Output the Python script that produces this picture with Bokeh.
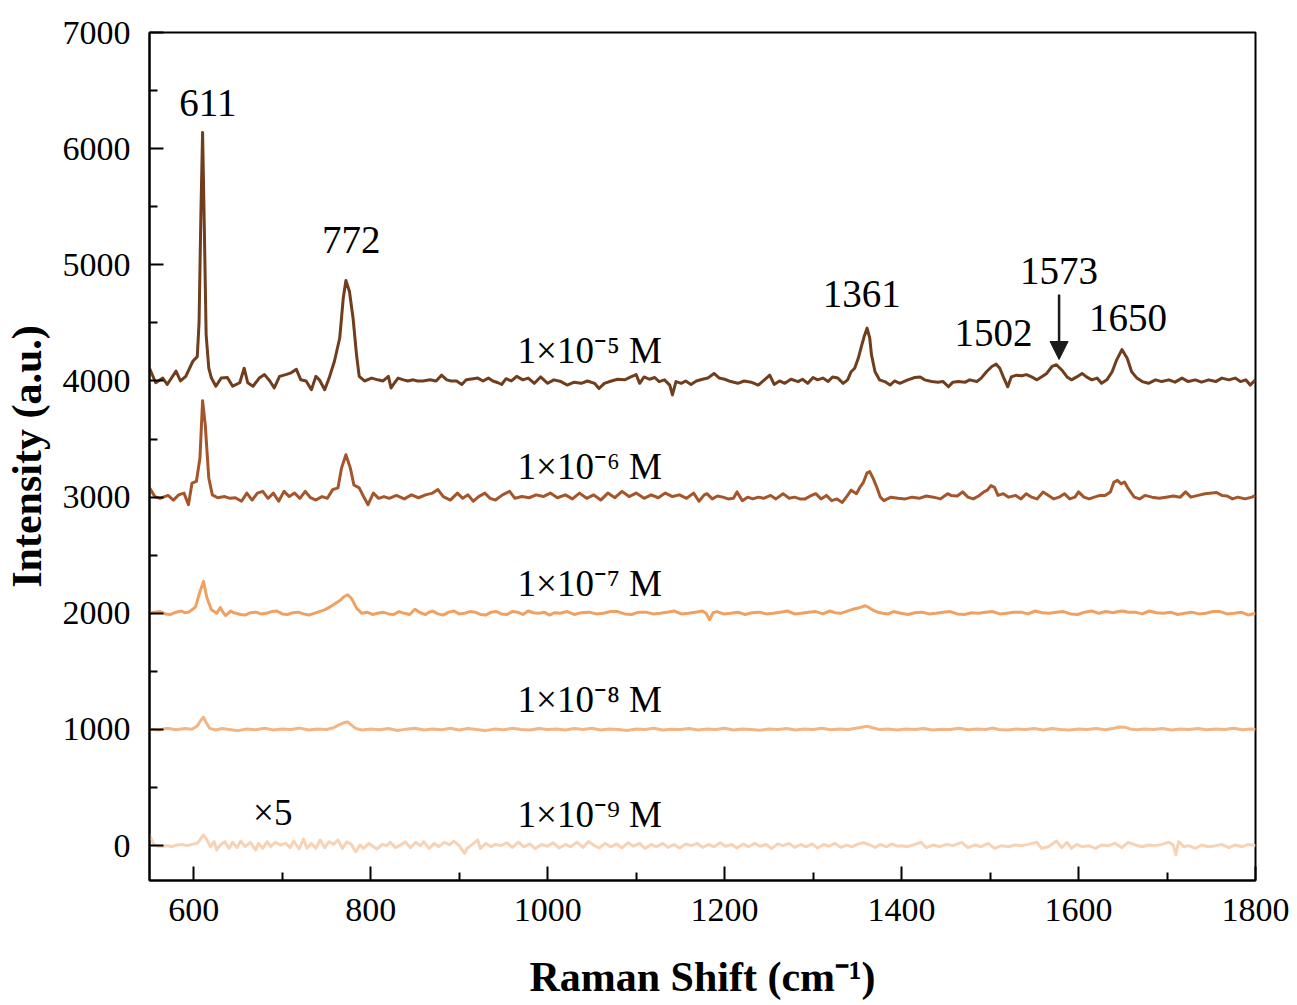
from bokeh.plotting import figure
from bokeh.models import FixedTicker, Range1d, Arrow, NormalHead
from bokeh.core.properties import value
from bokeh.embed import file_html
from bokeh.resources import INLINE

# ---------------- data ----------------
x_1e5 = [550, 557, 565, 570, 580, 585, 591, 599, 604, 606, 608, 610, 612, 614, 617, 620, 625, 631, 638, 644,
         652, 657, 661, 667, 674, 680, 686, 691, 697, 704, 710, 716, 721, 727, 733, 738, 742, 748, 753, 759,
         765, 769, 772, 776, 780, 784, 787, 793, 801, 808, 814, 820, 823, 827, 831, 837, 842, 848, 853, 859,
         867, 874, 880, 886, 891, 897, 903, 908, 916, 921, 927, 933, 938, 944, 948, 953, 959, 965, 972, 978,
         985, 992, 1000, 1007, 1015, 1022, 1030, 1038, 1045, 1053, 1058, 1064, 1072, 1079, 1087, 1094, 1100,
         1104, 1109, 1115, 1121, 1126, 1132, 1138, 1141, 1145, 1151, 1156, 1162, 1168, 1175, 1181, 1188, 1194,
         1200, 1207, 1215, 1222, 1230, 1238, 1245, 1251, 1256, 1262, 1268, 1275, 1283, 1288, 1294, 1300, 1305,
         1311, 1317, 1322, 1328, 1334, 1339, 1343, 1347, 1351, 1354, 1358, 1361, 1364, 1366, 1370, 1375, 1381,
         1387, 1392, 1398, 1407, 1415, 1421, 1426, 1434, 1441, 1447, 1453, 1458, 1464, 1472, 1477, 1485, 1490,
         1496, 1502, 1507, 1511, 1515, 1520, 1524, 1530, 1536, 1541, 1547, 1553, 1558, 1564, 1570, 1575, 1581,
         1587, 1592, 1598, 1604, 1609, 1615, 1621, 1626, 1632, 1638, 1643, 1649, 1655, 1660, 1666, 1672, 1679,
         1687, 1694, 1702, 1709, 1717, 1724, 1732, 1739, 1747, 1755, 1762, 1770, 1777, 1783, 1789, 1794, 1800]
y_1e5 = [4110, 3985, 4025, 3970, 4085, 4000, 4040, 4170, 4210, 4500, 5400, 6140, 5300, 4400, 4110, 4025, 3955, 4025, 4030, 3955,
         3985, 4110, 3985, 3955, 4025, 4055, 4000, 3940, 4040, 4055, 4070, 4100, 4010, 4000, 3925, 4040, 4010, 3925, 4025, 4170,
         4370, 4715, 4865, 4770, 4545, 4225, 4040, 4000, 4025, 4010, 4000, 4040, 3940, 3985, 4025, 4010, 4000, 4010, 4000, 4000,
         4010, 4000, 4050, 4010, 4000, 4000, 3970, 4010, 4020, 4025, 4000, 4025, 4000, 3985, 3970, 4020, 4000, 4040, 4010, 4025,
         3980, 4035, 3980, 4010, 3995, 3965, 3990, 3980, 4000, 3980, 3935, 3980, 4000, 4015, 4010, 4035, 4055,
         3980, 4035, 4015, 4030, 3995, 4010, 3965, 3880, 3995, 3980, 4000, 3970, 4000, 4015, 4025, 4065, 4025,
         4015, 3995, 3980, 4000, 3990, 3965, 4010, 4050, 3970, 4000, 3980, 4015, 3995, 4015, 3980, 4030, 4010,
         4025, 3995, 4035, 4025, 3980, 4010, 4080, 4110, 4195, 4280, 4390, 4455, 4370, 4225, 4080, 4010, 3995,
         3965, 4000, 3980, 4010, 4030, 4035, 4010, 3995, 3990, 3995, 3950, 3990, 3995, 3990, 4010, 3995, 4025,
         4080, 4125, 4145, 4110, 4035, 3950, 4035, 4050, 4045, 4055, 4035, 4010, 4035, 4065, 4125, 4140, 4095,
         4035, 4010, 4035, 4065, 4035, 4010, 4025, 3980, 4010, 4080, 4180, 4270, 4195, 4080, 4025, 3995, 3980,
         4010, 3995, 4010, 3990, 4025, 3995, 4010, 3990, 4010, 3995, 4025, 4010, 4025, 3995, 4010, 3965, 4010]

x_1e6 = [550, 556, 562, 571, 577, 583, 589, 594, 598, 603, 607, 610, 613, 617, 621, 627, 635, 641, 647, 654,
         660, 666, 672, 678, 684, 690, 696, 702, 708, 714, 720, 726, 732, 738, 745, 751, 757, 763, 767, 772,
         777, 781, 787, 793, 797, 803, 809, 815, 821, 829, 838, 846, 854, 862, 870, 876, 882, 890, 898, 904,
         910, 916, 922, 929, 935, 941, 949, 957, 963, 971, 979, 987, 995, 1003, 1011, 1020, 1028, 1036, 1044,
         1052, 1060, 1068, 1076, 1084, 1092, 1100, 1109, 1117, 1125, 1133, 1141, 1149, 1157, 1165, 1171, 1177,
         1180, 1186, 1192, 1198, 1204, 1210, 1214, 1220, 1226, 1232, 1238, 1244, 1252, 1258, 1266, 1273, 1279,
         1285, 1291, 1297, 1303, 1309, 1315, 1321, 1327, 1333, 1339, 1343, 1349, 1353, 1357, 1361, 1364, 1368,
         1372, 1376, 1380, 1388, 1396, 1404, 1412, 1420, 1428, 1436, 1444, 1452, 1456, 1463, 1469, 1475, 1481,
         1487, 1493, 1497, 1501, 1505, 1509, 1515, 1521, 1529, 1535, 1541, 1547, 1553, 1560, 1566, 1572, 1578,
         1584, 1590, 1596, 1600, 1606, 1612, 1618, 1624, 1630, 1636, 1640, 1644, 1648, 1652, 1656, 1663, 1669,
         1675, 1683, 1691, 1699, 1707, 1715, 1721, 1727, 1735, 1743, 1756, 1762, 1768, 1774, 1780, 1788, 1796, 1800]
y_1e6 = [3080, 3005, 2990, 3015, 2975, 3020, 3035, 2935, 3120, 3135, 3335, 3830, 3625, 3165, 3020, 2995, 3005, 2990, 2995, 2965,
         3035, 2975, 3035, 3050, 2990, 3035, 2965, 3050, 3005, 3035, 2990, 3050, 2995, 2975, 3005, 2990, 3065, 3080, 3250, 3365,
         3250, 3105, 3080, 2990, 2935, 3035, 2990, 3005, 2990, 3015, 2985, 3020, 2995, 3020, 3035, 3065, 3005, 2975, 3035, 2990,
         3020, 2965, 3005, 3035, 2990, 2975, 3020, 3050, 2990, 3005, 2995, 3020, 3005, 3035, 2995, 3020, 2985, 3035, 2990,
         3020, 2975, 3035, 2995, 3050, 3005, 3035, 2990, 3020, 2995, 3035, 3005, 3020, 2990, 3035, 2965, 3020,
         3030, 2985, 3010, 3000, 2985, 2990, 3045, 2970, 3000, 2985, 3000, 2990, 3015, 2985, 3030, 2990, 3000,
         2985, 2985, 3010, 3030, 2985, 3015, 2970, 2985, 2955, 3015, 3060, 3030, 3085, 3130, 3210, 3220, 3160,
         3085, 3000, 2970, 3000, 2990, 2985, 3000, 2990, 3010, 3000, 2985, 3030, 3015, 3010, 3045, 3000, 2985,
         3010, 3045, 3060, 3100, 3085, 3015, 3030, 3000, 3015, 2985, 3030, 3000, 2985, 3045, 3015, 2985, 3000,
         3030, 2985, 3000, 3045, 3000, 2985, 3000, 3015, 3015, 3045, 3130, 3145, 3115, 3130, 3075, 3000, 2985,
         3015, 3000, 2990, 3000, 3010, 3000, 3045, 3000, 3015, 3030, 3040, 3015, 3010, 2985, 3000, 2985, 3000, 3015]

# 1e-7 M trace as (Raman shift, intensity) pairs
pts_1e7 = [(550, 2000), (556, 2010), (562, 2015), (568, 1995), (574, 1990), (580, 2010), (586, 2020), (590, 2005),
           (594, 2010), (598, 2030), (602, 2055), (607, 2185), (611, 2275), (615, 2130), (620, 2030), (623, 2015),
           (626, 2000), (630, 2050), (633, 2010), (636, 1980), (642, 2020), (645, 2005), (648, 2000), (653, 1990),
           (658, 1985), (664, 2005), (670, 2010), (676, 1995), (682, 2000), (688, 2015), (694, 2020), (700, 1995),
           (706, 1990), (712, 2005), (718, 2010), (724, 1995), (730, 1985), (736, 2000), (742, 2015), (748, 2030),
           (754, 2055), (760, 2085), (766, 2115), (770, 2145), (774, 2160), (778, 2130), (781, 2090), (784, 2045),
           (790, 2000), (796, 2010), (802, 1990), (808, 2000), (814, 2010), (820, 1995), (826, 1990), (832, 2015),
           (838, 2000), (844, 1990), (850, 2035), (856, 2005), (862, 1990), (866, 2010), (870, 2020), (876, 1995),
           (882, 1985), (888, 2010), (894, 2020), (900, 1995), (906, 2000), (912, 2015), (918, 2010), (924, 1990),
           (930, 1985), (936, 2010), (942, 2015), (948, 1995), (954, 1990), (960, 2015), (966, 2010), (972, 1990),
           (978, 2020), (984, 2005), (990, 2000), (996, 2010), (1002, 1985), (1008, 2005), (1014, 2000), (1022, 2015),
           (1030, 1990), (1038, 2005), (1047, 2010), (1055, 1995), (1063, 2000), (1071, 2015), (1079, 2015),
           (1087, 1995), (1095, 1990), (1103, 2010), (1111, 2010), (1119, 1995), (1127, 2000), (1135, 2010),
           (1143, 2020), (1151, 1995), (1159, 2000), (1167, 2010), (1175, 2020), (1179, 2000), (1183, 1945),
           (1187, 2005), (1191, 2015), (1199, 1995), (1207, 2000), (1215, 2010), (1223, 1990), (1231, 2005),
           (1239, 2010), (1247, 1995), (1255, 2000), (1263, 2010), (1271, 2020), (1279, 1995), (1287, 2000),
           (1295, 2010), (1303, 2015), (1311, 1995), (1319, 2020), (1325, 2005), (1331, 2000), (1337, 2015),
           (1343, 2030), (1347, 2040), (1351, 2045), (1355, 2055), (1359, 2065), (1363, 2050), (1367, 2030),
           (1373, 2010), (1379, 2000), (1385, 1995), (1391, 2015), (1399, 2000), (1407, 1990), (1415, 2005),
           (1423, 2010), (1431, 1995), (1439, 2000), (1447, 2010), (1455, 2015), (1463, 1995), (1471, 1990),
           (1479, 2005), (1487, 2000), (1495, 2010), (1503, 2015), (1511, 1995), (1519, 2000), (1527, 2010),
           (1535, 2010), (1543, 1995), (1551, 2020), (1559, 2005), (1567, 2000), (1575, 2010), (1583, 2015),
           (1591, 1995), (1599, 1990), (1607, 2010), (1615, 2020), (1623, 2000), (1631, 2015), (1639, 2005),
           (1645, 2015), (1650, 2020), (1656, 2010), (1664, 2010), (1672, 1995), (1680, 2020), (1688, 2005),
           (1696, 2000), (1704, 2010), (1712, 1990), (1720, 2000), (1728, 2010), (1736, 1995), (1744, 2000),
           (1752, 2015), (1760, 2015), (1768, 1995), (1776, 2000), (1784, 2010), (1792, 1985), (1800, 2000)]
x_1e7 = [pt[0] for pt in pts_1e7]
y_1e7 = [pt[1] for pt in pts_1e7]

x_1e8 = [550, 560, 570, 580, 590, 598, 604, 608, 611, 614, 618, 625, 632, 640, 650, 660, 670, 680, 690, 700,
         710, 720, 730, 740, 750, 758, 764, 770, 774, 778, 783, 790, 800, 810, 820, 830, 840, 850, 860, 870,
         880, 890, 900, 910, 920, 930, 940, 950, 960, 970, 980, 990, 1000, 1010, 1020, 1030, 1040, 1050, 1060,
         1070, 1080, 1090, 1100, 1110, 1120, 1130, 1140, 1150, 1160, 1170, 1180, 1190, 1200, 1210, 1220, 1230,
         1240, 1250, 1260, 1270, 1280, 1290, 1300, 1310, 1320, 1330, 1340, 1348, 1355, 1361, 1367, 1375, 1385,
         1395, 1405, 1415, 1425, 1435, 1445, 1455, 1465, 1475, 1485, 1495, 1502, 1510, 1520, 1530, 1540, 1550,
         1560, 1570, 1580, 1590, 1600, 1610, 1620, 1630, 1640, 1646, 1652, 1658, 1665, 1675, 1685, 1695, 1705,
         1715, 1725, 1735, 1745, 1755, 1765, 1775, 1785, 1795, 1800]
y_1e8 = [1005, 995, 1010, 998, 1008, 1002, 1030, 1080, 1105, 1060, 1010, 995, 1008, 1000, 990, 1005, 998, 1010, 995, 1005,
         1000, 1012, 995, 1005, 1000, 1015, 1040, 1060, 1065, 1040, 1010, 995, 1005, 998, 1008, 992, 1003, 1010, 996, 1005,
         998, 1010, 995, 1008, 1000, 990, 1005, 998, 1010, 1000, 995, 1008, 1000, 1005, 995, 1008, 1000, 1010, 996,
         1005, 1000, 992, 1005, 1000, 1010, 995, 1003, 1000, 1008, 995, 1005, 1000, 1010, 996, 1005, 1000,
         993, 1005, 1000, 1008, 995, 1005, 1000, 1010, 998, 1005, 1000, 1010, 1020, 1028, 1015, 1000, 1005,
         995, 1005, 1000, 1008, 995, 1003, 1000, 1010, 998, 1005, 1000, 1012, 1000, 995, 1005, 1000, 1008,
         995, 1008, 1000, 995, 1005, 1000, 1008, 998, 1010, 1022, 1020, 1005, 998, 1005, 1000, 1008, 995,
         1005, 1000, 1008, 998, 1005, 1000, 1010, 998, 1005, 1000]

# 1e-9 M trace, shown multiplied by 5
x_1e9 = [550, 555, 562, 570, 575, 581, 587, 592, 598, 604, 607, 611, 615, 619, 623, 626, 630, 635, 640, 644,
         649, 653, 658, 664, 670, 673, 678, 683, 687, 692, 698, 704, 709, 713, 719, 724, 728, 733, 738, 743,
         748, 753, 758, 763, 768, 773, 778, 783, 788, 792, 798, 803, 807, 813, 818, 822, 828, 834, 839, 845,
         851, 856, 860, 866, 872, 877, 883, 889, 894, 900, 906, 909, 915, 921, 924, 930, 936, 941, 947, 954,
         960, 967, 973, 980, 986, 993, 1000, 1006, 1013, 1020, 1026, 1033, 1040, 1046, 1052, 1058, 1065, 1071,
         1078, 1084, 1091, 1097, 1104, 1110, 1117, 1123, 1130, 1136, 1143, 1149, 1156, 1162, 1169, 1175, 1182,
         1188, 1195, 1201, 1208, 1214, 1221, 1227, 1234, 1240, 1247, 1253, 1260, 1266, 1273, 1279, 1286, 1292,
         1299, 1305, 1312, 1318, 1325, 1331, 1338, 1344, 1351, 1357, 1363, 1370, 1376, 1383, 1389, 1395, 1400,
         1407, 1415, 1422, 1428, 1436, 1443, 1451, 1458, 1468, 1475, 1483, 1490, 1498, 1505, 1513, 1521, 1528,
         1536, 1543, 1553, 1558, 1566, 1575, 1581, 1587, 1592, 1598, 1604, 1611, 1619, 1626, 1634, 1641, 1649,
         1656, 1664, 1672, 1679, 1687, 1694, 1702, 1707, 1710, 1713, 1719, 1724, 1732, 1739, 1747, 1755, 1762,
         1770, 1777, 1785, 1792, 1800]
y_1e9 = [92, 6, -9, 0, -9, 6, 11, 0, 11, 20, 49, 92, 49, -9, 34, -37, 6, 34, -23, 29,
         -17, 40, -9, 29, -37, 20, -23, 34, -9, 29, 6, 20, -17, 40, -29, 57, -23, 20, -23, 49,
         -17, 34, 11, 49, -23, 34, 11, -52, 6, -23, 20, -9, -29, 11, 0, 29, -17, 6, 34, -17,
         29, 0, 34, -23, 20, -9, 29, 6, 40, 0, -66, -23, 11, 49, -23, 20, -9, 11, 0, 25,
         -15, 30, -10, 15, -25, 10, -5, 25, -20, 10, -10, 30, -15, 35, 5, -20, 20, -10,
         15, -20, 25, -5, 20, -25, 10, -10, 20, -15, 10, -20, 15, 0, 20, -15, 10,
         -10, 25, -5, 10, -20, 15, -10, 20, -5, 10, -25, 15, 0, 20, -15, 10, -10,
         15, -20, 10, -5, 20, -15, 5, -10, 15, 25, 10, -15, 10, -10, 15, -5, 0,
         -9, 11, 29, -17, 6, -9, 11, 0, 29, -17, 6, -9, 20, -23, 0, -9, 6,
         0, 11, 29, -23, -9, 40, -17, 29, -23, 11, -9, 0, -23, 6, 0, 20, -17,
         29, 6, -9, 6, 0, 11, 29, 6, -80, 34, -9, 0, -23, 6, -9, 0, 11,
         -17, 6, -9, 11, 0]

series_x = [x_1e5, x_1e6, x_1e7, x_1e8, x_1e9]
series_y = [y_1e5, y_1e6, y_1e7, y_1e8, y_1e9]
series_colors = ["#703D1D", "#A5552A", "#F0A161", "#F3B584", "#F8D2B4"]

conc_labels = ["1×10⁻⁵ M", "1×10⁻⁶ M", "1×10⁻⁷ M", "1×10⁻⁸ M", "1×10⁻⁹ M"]
conc_label_x = [966, 966, 966, 966, 966]
conc_label_y = [4260, 3260, 2260, 1260, 265]

peak_labels = ["611", "772", "1361", "1502", "1573", "1650"]
peak_label_x = [616, 778, 1355, 1504, 1578, 1656]
peak_label_y = [6395, 5215, 4750, 4415, 4945, 4540]

scale_label = ["×5"]
scale_label_x = [667]
scale_label_y = [282]

arrow_x = 1578
arrow_y_start = 4745
arrow_y_end = 4185

x_ticks = [600, 800, 1000, 1200, 1400, 1600, 1800]
x_minor = [700, 900, 1100, 1300, 1500, 1700]
y_ticks = [0, 1000, 2000, 3000, 4000, 5000, 6000, 7000]
y_minor = [500, 1500, 2500, 3500, 4500, 5500, 6500]

FONT = "Liberation Serif"

# ---------------- figure ----------------
p = figure(width=1297, height=1005, output_backend="svg", toolbar_location=None,
           x_range=Range1d(550, 1800), y_range=Range1d(-300, 7000),
           min_border_left=149, min_border_right=42, min_border_top=32, min_border_bottom=125,
           background_fill_color="white", border_fill_color="white")

p.xgrid.visible = False
p.ygrid.visible = False
p.outline_line_color = "black"
p.outline_line_width = 2
p.outline_line_alpha = 1

for xs, ys, c in zip(series_x, series_y, series_colors):
    p.line(xs, ys, line_color=c, line_width=3, line_join="round")

p.text(x=conc_label_x, y=conc_label_y, text=conc_labels, text_font=value(FONT),
       text_font_size="37px", text_align="left", text_baseline="alphabetic", text_color="black")
p.text(x=peak_label_x, y=peak_label_y, text=peak_labels, text_font=value(FONT),
       text_font_size="39px", text_align="center", text_baseline="alphabetic", text_color="black")
p.text(x=scale_label_x, y=scale_label_y, text=scale_label, text_font=value(FONT),
       text_font_size="37px", text_align="left", text_baseline="alphabetic", text_color="black")

p.add_layout(Arrow(end=NormalHead(size=18, fill_color="#1A1A1A", line_color="#1A1A1A"),
                   x_start=arrow_x, y_start=arrow_y_start, x_end=arrow_x, y_end=arrow_y_end,
                   line_color="#1A1A1A", line_width=2.5))

for ax, ticks, minor in ((p.xaxis[0], x_ticks, x_minor), (p.yaxis[0], y_ticks, y_minor)):
    ax.ticker = FixedTicker(ticks=ticks, minor_ticks=minor)
    ax.axis_line_width = 2
    ax.axis_line_color = "black"
    ax.major_tick_line_width = 2
    ax.major_tick_line_color = "black"
    ax.minor_tick_line_width = 2
    ax.minor_tick_line_color = "black"
    ax.major_tick_in = 14
    ax.major_tick_out = 0
    ax.minor_tick_in = 8
    ax.minor_tick_out = 0
    ax.major_label_text_font = FONT
    ax.major_label_text_font_size = "34px"
    ax.major_label_text_color = "black"
    ax.axis_label_text_font = FONT
    ax.axis_label_text_font_size = "42px"
    ax.axis_label_text_font_style = "bold"
    ax.axis_label_text_color = "black"

p.xaxis.axis_label = "Raman Shift (cm⁻¹)"
p.yaxis.axis_label = "Intensity (a.u.)"
p.xaxis.major_label_standoff = 18
p.yaxis.major_label_standoff = 19
p.xaxis.axis_label_standoff = 30
p.yaxis.axis_label_standoff = 10

open("out.html", "w").write(file_html(p, INLINE))
